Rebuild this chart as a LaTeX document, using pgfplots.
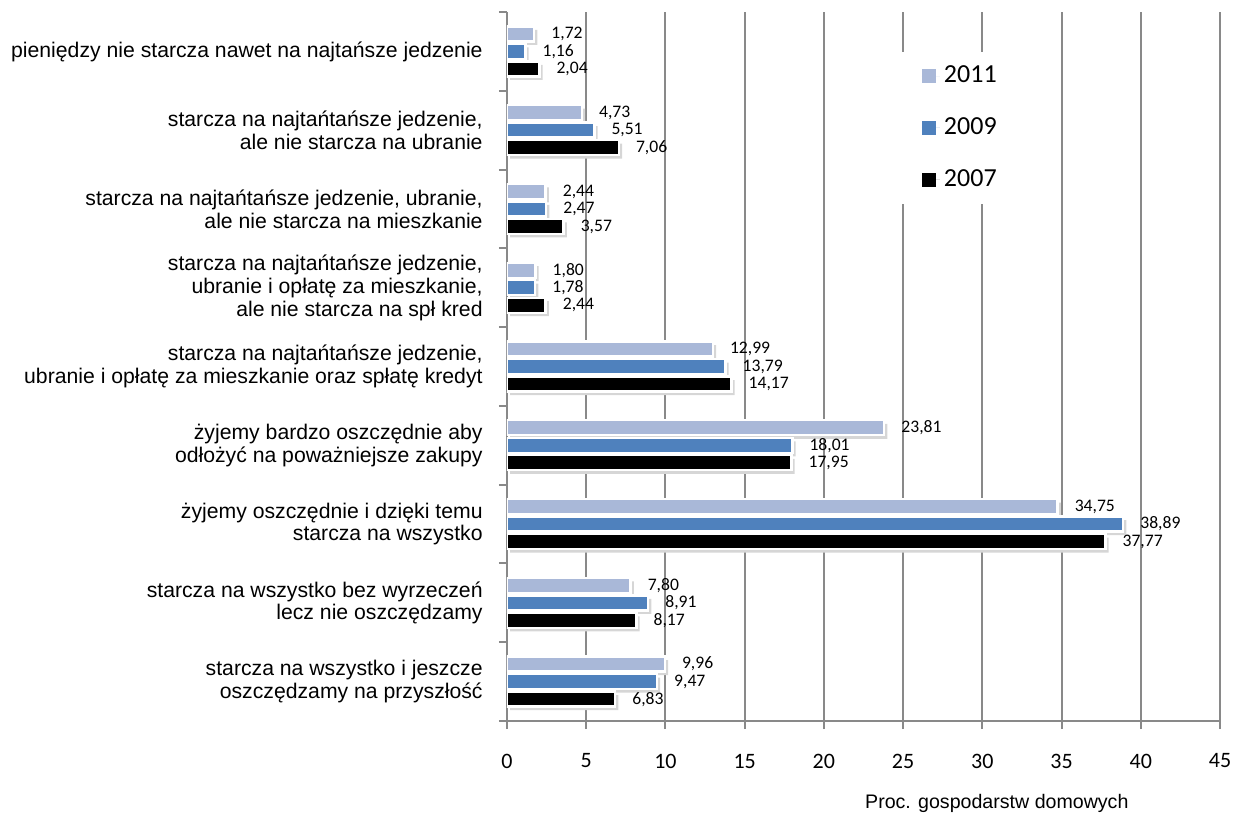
\documentclass[border=0pt]{standalone}
\usepackage{pgfplots}
\usepackage{pgfplotstable}
\pgfplotsset{compat=1.18}
\usepackage{fontspec}
\setmainfont{Liberation Sans}
\newfontfamily\calibri{Carlito}

\definecolor{c2011}{RGB}{169,184,216}
\definecolor{c2009}{RGB}{79,129,189}
\definecolor{c2007}{RGB}{0,0,0}
\definecolor{gridgray}{RGB}{137,137,137}

% idx 0 = bottom category
\pgfplotstableread{
idx  y2011  y2009  y2007
0    9.96   9.47   6.83
1    7.80   8.91   8.17
2    34.75  38.89  37.77
3    23.81  18.01  17.95
4    12.99  13.79  14.17
5    1.80   1.78   2.44
6    2.44   2.47   3.57
7    4.73   5.51   7.06
8    1.72   1.16   2.04
}\datatable

\pgfplotsset{
    vals/.style={draw=white, line width=1.2pt,
        nodes near coords={\pgfmathprintnumber[fixed,fixed zerofill,precision=2,use comma]{\pgfplotspointmeta}},
        nodes near coords align={horizontal},
        every node near coord/.append style={font=\calibri\fontsize{8.8}{10}\selectfont, text=black,
            anchor=west, inner sep=0pt, xshift=8pt}},
    shadow/.style={forget plot, fill=black!16, draw=none, transform canvas={xshift=1.6pt}},
}

\begin{document}
\begin{tikzpicture}
\useasboundingbox (-253.5pt,-46.5pt) rectangle (364pt,360.5pt);
\begin{axis}[
    scale only axis,
    width=356.5pt, height=354.5pt,
    xbar, bar width=7.5pt,
    xmin=0, xmax=45,
    ymin=-0.5, ymax=8.5,
    xtick={0,5,...,45},
    ytick={-0.5,0.5,...,8.5},
    yticklabels={},
    extra y ticks={0,1,...,8},
    extra y tick labels={
        {starcza na wszystko i jeszcze\\oszczędzamy na przyszłość},
        {starcza na wszystko bez wyrzeczeń\\lecz nie oszczędzamy},
        {żyjemy oszczędnie i dzięki temu\\starcza na wszystko},
        {żyjemy bardzo oszczędnie aby\\odłożyć na poważniejsze zakupy},
        {starcza na najtańtańsze jedzenie,\\ubranie i opłatę za mieszkanie oraz spłatę kredyt},
        {starcza na najtańtańsze jedzenie,\\ubranie i opłatę za mieszkanie,\\ale nie starcza na spł kred},
        {starcza na najtańtańsze jedzenie, ubranie,\\ale nie starcza na mieszkanie},
        {starcza na najtańtańsze jedzenie,\\ale nie starcza na ubranie},
        {pieniędzy nie starcza nawet na najtańsze jedzenie}},
    extra y tick style={major tick length=0pt},
    yticklabel style={align=right, anchor=east, inner sep=0pt, xshift=-12pt,
        font=\fontsize{10.6}{11.4}\selectfont},
    axis x line*=bottom, axis y line*=left,
    axis line style={draw=gridgray, line width=1pt},
    tick align=outside, major tick length=4pt,
    tick style={draw=gridgray, line width=1pt},
    xmajorgrids, grid style={draw=gridgray, line width=1pt},
    /pgf/number format/assume math mode=true,
    xticklabel style={font=\calibri\fontsize{11}{13}\selectfont, anchor=center, yshift=-16pt},
    xlabel={Proc. gospodarstw domowych},
    xlabel style={at={(axis description cs:0.687,0)}, anchor=center, yshift=-41pt,
        font=\fontsize{9.8}{11}\selectfont},
    point meta=x,
    legend style={at={(axis description cs:0.545,0.944)}, anchor=north west, draw=none,
        fill=white, font=\calibri\fontsize{13}{15}\selectfont, row sep=12pt,
        inner xsep=13pt, inner ysep=5pt},
    legend cell align=left,
]
% soft shadows under the bars
\addplot[shadow, bar shift=7.0pt]  table[x=y2011, y=idx] {\datatable};
\addplot[shadow, bar shift=-1.75pt] table[x=y2009, y=idx] {\datatable};
\addplot[shadow, bar shift=-10.5pt] table[x=y2007, y=idx] {\datatable};
% bars
\addplot[vals, fill=c2011, bar shift=8.75pt,
    legend image code/.code={\fill[c2011, draw=none] (0pt,-3.5pt) rectangle (7pt,3.5pt); \path[draw=none] (0pt,0pt) -- (9pt,0pt);}]
    table[x=y2011, y=idx] {\datatable};
\addplot[vals, fill=c2009, bar shift=0pt,
    legend image code/.code={\fill[c2009, draw=none] (0pt,-3.5pt) rectangle (7pt,3.5pt); \path[draw=none] (0pt,0pt) -- (9pt,0pt);}]
    table[x=y2009, y=idx] {\datatable};
\addplot[vals, fill=c2007, bar shift=-8.75pt,
    legend image code/.code={\fill[c2007, draw=none] (0pt,-3.5pt) rectangle (7pt,3.5pt); \path[draw=none] (0pt,0pt) -- (9pt,0pt);}]
    table[x=y2007, y=idx] {\datatable};
\legend{2011,2009,2007}
\end{axis}
\end{tikzpicture}
\end{document}
